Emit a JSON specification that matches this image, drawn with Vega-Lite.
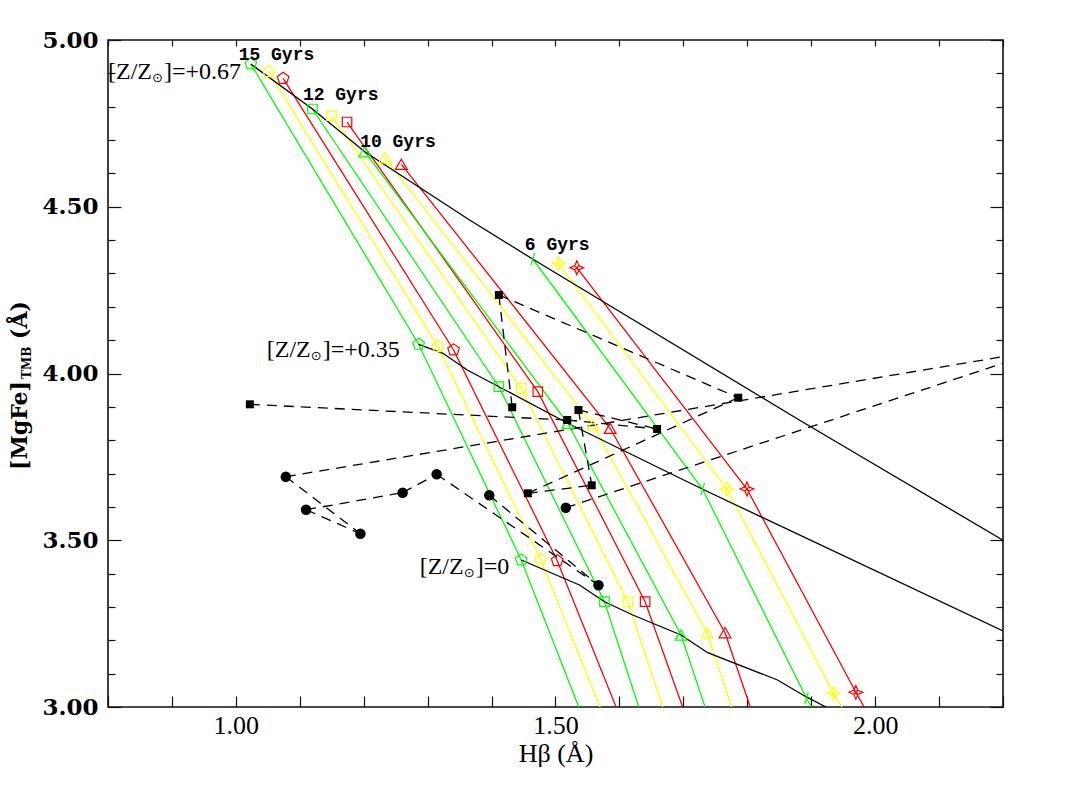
{
  "$schema": "https://vega.github.io/schema/vega-lite/v6.json",
  "width": 895,
  "height": 667,
  "autosize": "none",
  "padding": {"left": 108, "top": 40, "right": 64, "bottom": 90},
  "background": "white",
  "config": {
    "view": {"stroke": "#111111", "strokeWidth": 1.6},
    "font": "DejaVu Serif"
  },
  "datasets": {
    "iso": [
      {"s": "g15", "c": "g", "m": "pent", "o": 1, "x": 1.0234, "y": 4.928},
      {"s": "g15", "c": "g", "m": "pent", "o": 2, "x": 1.2859, "y": 4.0876},
      {"s": "g15", "c": "g", "m": "pent", "o": 3, "x": 1.4464, "y": 3.4408},
      {"s": "g15", "c": "g", "o": 4, "x": 1.5364, "y": 3.0},
      {"s": "y15", "c": "y", "m": "pent", "o": 1, "x": 1.0511, "y": 4.905},
      {"s": "y15", "c": "y", "m": "pent", "o": 2, "x": 1.3161, "y": 4.0804},
      {"s": "y15", "c": "y", "m": "pent", "o": 3, "x": 1.4766, "y": 3.4429},
      {"s": "y15", "c": "y", "o": 4, "x": 1.5698, "y": 3.0},
      {"s": "r15", "c": "r", "m": "pent", "o": 1, "x": 1.0739, "y": 4.885},
      {"s": "r15", "c": "r", "m": "pent", "o": 2, "x": 1.3406, "y": 4.0705},
      {"s": "r15", "c": "r", "m": "pent", "o": 3, "x": 1.5027, "y": 3.4387},
      {"s": "r15", "c": "r", "o": 4, "x": 1.5948, "y": 3.0},
      {"s": "g12", "c": "g", "m": "sq", "o": 1, "x": 1.1198, "y": 4.7931},
      {"s": "g12", "c": "g", "m": "sq", "o": 2, "x": 1.4114, "y": 3.9604},
      {"s": "g12", "c": "g", "m": "sq", "o": 3, "x": 1.5766, "y": 3.3157},
      {"s": "g12", "c": "g", "o": 4, "x": 1.6302, "y": 3.0},
      {"s": "y12", "c": "y", "m": "sq", "o": 1, "x": 1.1495, "y": 4.773},
      {"s": "y12", "c": "y", "m": "sq", "o": 2, "x": 1.4464, "y": 3.9556},
      {"s": "y12", "c": "y", "m": "sq", "o": 3, "x": 1.613, "y": 3.3157},
      {"s": "y12", "c": "y", "o": 4, "x": 1.6677, "y": 3.0},
      {"s": "r12", "c": "r", "m": "sq", "o": 1, "x": 1.1739, "y": 4.7541},
      {"s": "r12", "c": "r", "m": "sq", "o": 2, "x": 1.4723, "y": 3.9454},
      {"s": "r12", "c": "r", "m": "sq", "o": 3, "x": 1.6402, "y": 3.3157},
      {"s": "r12", "c": "r", "o": 4, "x": 1.6989, "y": 3.0},
      {"s": "g10", "c": "g", "m": "tri", "o": 1, "x": 1.2016, "y": 4.6651},
      {"s": "g10", "c": "g", "m": "tri", "o": 2, "x": 1.5192, "y": 3.8507},
      {"s": "g10", "c": "g", "m": "tri", "o": 3, "x": 1.6964, "y": 3.2159},
      {"s": "g10", "c": "g", "o": 4, "x": 1.7339, "y": 3.0},
      {"s": "y10", "c": "y", "m": "tri", "o": 1, "x": 1.2328, "y": 4.6471},
      {"s": "y10", "c": "y", "m": "tri", "o": 2, "x": 1.5583, "y": 3.8456},
      {"s": "y10", "c": "y", "m": "tri", "o": 3, "x": 1.737, "y": 3.2228},
      {"s": "y10", "c": "y", "o": 4, "x": 1.7755, "y": 3.0},
      {"s": "r10", "c": "r", "m": "tri", "o": 1, "x": 1.2589, "y": 4.6273},
      {"s": "r10", "c": "r", "m": "tri", "o": 2, "x": 1.5855, "y": 3.8357},
      {"s": "r10", "c": "r", "m": "tri", "o": 3, "x": 1.7652, "y": 3.2228},
      {"s": "r10", "c": "r", "o": 4, "x": 1.8047, "y": 3.0},
      {"s": "g6", "c": "g", "m": "slash", "o": 1, "x": 1.4645, "y": 4.3433},
      {"s": "g6", "c": "g", "m": "slash", "o": 2, "x": 1.7302, "y": 3.6528},
      {"s": "g6", "c": "g", "m": "slash", "o": 3, "x": 1.8927, "y": 3.0261},
      {"s": "g6", "c": "g", "o": 4, "x": 1.9005, "y": 3.0},
      {"s": "y6", "c": "y", "m": "star", "o": 1, "x": 1.5047, "y": 4.3304},
      {"s": "y6", "c": "y", "m": "star", "o": 2, "x": 1.7683, "y": 3.6537},
      {"s": "y6", "c": "y", "m": "star", "o": 3, "x": 1.9348, "y": 3.0411},
      {"s": "y6", "c": "y", "o": 4, "x": 1.948, "y": 3.0},
      {"s": "r6", "c": "r", "m": "star", "o": 1, "x": 1.5333, "y": 4.3172},
      {"s": "r6", "c": "r", "m": "star", "o": 2, "x": 1.7995, "y": 3.6537},
      {"s": "r6", "c": "r", "m": "star", "o": 3, "x": 1.9698, "y": 3.0441},
      {"s": "r6", "c": "r", "o": 4, "x": 1.9828, "y": 3.0}
    ],
    "zl": [
      {"s": "z67", "o": 1, "x": 1.0234, "y": 4.928},
      {"s": "z67", "o": 2, "x": 1.1198, "y": 4.7931},
      {"s": "z67", "o": 3, "x": 1.2016, "y": 4.6651},
      {"s": "z67", "o": 4, "x": 1.3656, "y": 4.4603},
      {"s": "z67", "o": 5, "x": 1.4641, "y": 4.3433},
      {"s": "z67", "o": 6, "x": 1.8813, "y": 3.8606},
      {"s": "z67", "o": 7, "x": 2.2, "y": 3.5},
      {"s": "z35", "o": 1, "x": 1.2859, "y": 4.0876},
      {"s": "z35", "o": 2, "x": 1.3239, "y": 4.0606},
      {"s": "z35", "o": 3, "x": 1.362, "y": 4.0105},
      {"s": "z35", "o": 4, "x": 1.4114, "y": 3.9604},
      {"s": "z35", "o": 5, "x": 1.5192, "y": 3.8507},
      {"s": "z35", "o": 6, "x": 1.7302, "y": 3.6528},
      {"s": "z35", "o": 7, "x": 2.2, "y": 3.228},
      {"s": "z0", "o": 1, "x": 1.4464, "y": 3.4408},
      {"s": "z0", "o": 2, "x": 1.5375, "y": 3.3658},
      {"s": "z0", "o": 3, "x": 1.5766, "y": 3.3157},
      {"s": "z0", "o": 4, "x": 1.6208, "y": 3.2759},
      {"s": "z0", "o": 5, "x": 1.6964, "y": 3.2159},
      {"s": "z0", "o": 6, "x": 1.738, "y": 3.1628},
      {"s": "z0", "o": 7, "x": 1.8473, "y": 3.081},
      {"s": "z0", "o": 8, "x": 1.8917, "y": 3.0309},
      {"s": "z0", "o": 9, "x": 1.923, "y": 3.0}
    ],
    "dl": [
      {"s": "d1", "o": 1, "x": 1.0219, "y": 3.9076}, {"s": "d1", "o": 2, "x": 1.5183, "y": 3.8606},
      {"s": "d2", "o": 1, "x": 1.4114, "y": 4.2354}, {"s": "d2", "o": 2, "x": 1.4323, "y": 3.8987},
      {"s": "d3", "o": 1, "x": 1.4114, "y": 4.2354}, {"s": "d3", "o": 2, "x": 1.7859, "y": 3.9274},
      {"s": "d4", "o": 1, "x": 1.5359, "y": 3.8906}, {"s": "d4", "o": 2, "x": 1.5567, "y": 3.6648},
      {"s": "d5", "o": 1, "x": 1.5359, "y": 3.8906}, {"s": "d5", "o": 2, "x": 1.6589, "y": 3.8336},
      {"s": "d6", "o": 1, "x": 1.5183, "y": 3.8606}, {"s": "d6", "o": 2, "x": 1.6589, "y": 3.8336},
      {"s": "d7", "o": 1, "x": 1.4567, "y": 3.6408}, {"s": "d7", "o": 2, "x": 1.7859, "y": 3.9274},
      {"s": "d8", "o": 1, "x": 1.4567, "y": 3.6408}, {"s": "d8", "o": 2, "x": 1.5567, "y": 3.6648},
      {"s": "d9", "o": 1, "x": 1.0781, "y": 3.6906}, {"s": "d9", "o": 2, "x": 2.2, "y": 4.0504},
      {"s": "d10", "o": 1, "x": 1.5161, "y": 3.5976}, {"s": "d10", "o": 2, "x": 2.2, "y": 4.0306},
      {"s": "d11", "o": 1, "x": 1.0781, "y": 3.6906}, {"s": "d11", "o": 2, "x": 1.1948, "y": 3.5196},
      {"s": "d12", "o": 1, "x": 1.1098, "y": 3.5916}, {"s": "d12", "o": 2, "x": 1.1948, "y": 3.5196},
      {"s": "d13", "o": 1, "x": 1.1098, "y": 3.5916}, {"s": "d13", "o": 2, "x": 1.2609, "y": 3.6426},
      {"s": "d14", "o": 1, "x": 1.2609, "y": 3.6426}, {"s": "d14", "o": 2, "x": 1.3141, "y": 3.6978},
      {"s": "d15", "o": 1, "x": 1.3141, "y": 3.6978}, {"s": "d15", "o": 2, "x": 1.5672, "y": 3.3649},
      {"s": "d16", "o": 1, "x": 1.3964, "y": 3.6348}, {"s": "d16", "o": 2, "x": 1.5672, "y": 3.3649}
    ],
    "obs": [
      {"t": "sq", "x": 1.0219, "y": 3.9076},
      {"t": "sq", "x": 1.4114, "y": 4.2354},
      {"t": "sq", "x": 1.4323, "y": 3.8987},
      {"t": "sq", "x": 1.5359, "y": 3.8906},
      {"t": "sq", "x": 1.5183, "y": 3.8606},
      {"t": "sq", "x": 1.6589, "y": 3.8336},
      {"t": "sq", "x": 1.7859, "y": 3.9274},
      {"t": "sq", "x": 1.4567, "y": 3.6408},
      {"t": "sq", "x": 1.5567, "y": 3.6648},
      {"t": "ci", "x": 1.0781, "y": 3.6906},
      {"t": "ci", "x": 1.1098, "y": 3.5916},
      {"t": "ci", "x": 1.1948, "y": 3.5196},
      {"t": "ci", "x": 1.2609, "y": 3.6426},
      {"t": "ci", "x": 1.3141, "y": 3.6978},
      {"t": "ci", "x": 1.3964, "y": 3.6348},
      {"t": "ci", "x": 1.5161, "y": 3.5976},
      {"t": "ci", "x": 1.5672, "y": 3.3649}
    ],
    "ages": [
      {"label": "15 Gyrs", "x": 1.0635, "y": 4.955},
      {"label": "12 Gyrs", "x": 1.164, "y": 4.836},
      {"label": "10 Gyrs", "x": 1.2536, "y": 4.695},
      {"label": "6 Gyrs", "x": 1.5027, "y": 4.385}
    ],
    "zlab": [
      {"sfx": "]=+0.67", "x": 0.8, "y": 4.904},
      {"sfx": "]=+0.35", "x": 1.0484, "y": 4.0705},
      {"sfx": "]=0", "x": 1.2875, "y": 3.4207}
    ],
    "ytitle": [
      {"part": "main", "t": "[MgFe]", "x": 0.6625, "y": 3.7106},
      {"part": "sub", "t": "TMB", "x": 0.6734, "y": 3.9835},
      {"part": "main", "t": "(Å)", "x": 0.6625, "y": 4.1034}
    ]
  },
  "layer": [
    {
      "data": {"name": "iso"},
      "mark": {"type": "line", "strokeWidth": 1.3, "clip": true},
      "encoding": {
        "x": {
          "field": "x", "type": "quantitative",
          "scale": {"domain": [0.8, 2.2], "nice": false, "zero": false},
          "axis": {
            "orient": "bottom",
            "values": [0.8, 0.9, 1.0, 1.1, 1.2, 1.3, 1.4, 1.5, 1.6, 1.7, 1.8, 1.9, 2.0, 2.1, 2.2],
            "labelExpr": "abs(datum.value*2 - round(datum.value*2)) < 0.01 && datum.value > 0.85 && datum.value < 2.15 ? format(datum.value, '.2f') : ''",
            "tickSize": -11, "tickWidth": 1.2, "tickColor": "#111111",
            "labelPadding": 16, "labelFont": "Liberation Serif", "labelFontSize": 26, "labelColor": "black",
            "labelFlush": false, "labelOverlap": false,
            "domain": false, "grid": false,
            "title": "Hβ (Å)", "titleFont": "Liberation Serif", "titleFontSize": 26, "titleFontWeight": "normal", "titleColor": "black", "titlePadding": 2
          }
        },
        "y": {
          "field": "y", "type": "quantitative",
          "scale": {"domain": [3.0, 5.0], "nice": false, "zero": false},
          "axis": {
            "orient": "left",
            "values": [3.0, 3.1, 3.2, 3.3, 3.4, 3.5, 3.6, 3.7, 3.8, 3.9, 4.0, 4.1, 4.2, 4.3, 4.4, 4.5, 4.6, 4.7, 4.8, 4.9, 5.0],
            "labelExpr": "abs(datum.value*2 - round(datum.value*2)) < 0.01 ? format(datum.value, '.2f') : ''",
            "tickSize": {"condition": {"test": "abs(datum.value*2 - round(datum.value*2)) < 0.01", "value": -13}, "value": -7},
            "tickWidth": 1.2, "tickColor": "#111111",
            "labelPadding": 23, "labelFont": "DejaVu Serif", "labelFontSize": 23, "labelFontWeight": "bold", "labelColor": "black",
            "labelFlush": false, "labelOverlap": false,
            "domain": false, "grid": false,
            "title": null
          }
        },
        "color": {"field": "c", "type": "nominal", "scale": {"domain": ["g", "y", "r"], "range": ["#00ff00", "#ffff00", "#ff0000"]}, "legend": null},
        "detail": {"field": "s"},
        "order": {"field": "o"}
      }
    },
    {
      "data": {"name": "zl"},
      "mark": {"type": "line", "color": "black", "strokeWidth": 1.3, "clip": true},
      "encoding": {
        "x": {
          "field": "x", "type": "quantitative",
          "axis": {
            "orient": "top",
            "values": [0.8, 0.9, 1.0, 1.1, 1.2, 1.3, 1.4, 1.5, 1.6, 1.7, 1.8, 1.9, 2.0, 2.1, 2.2],
            "labels": false, "title": null, "domain": false, "grid": false,
            "tickSize": -6, "tickWidth": 1.2, "tickColor": "#111111"
          }
        },
        "y": {
          "field": "y", "type": "quantitative",
          "axis": {
            "orient": "right",
            "values": [3.0, 3.1, 3.2, 3.3, 3.4, 3.5, 3.6, 3.7, 3.8, 3.9, 4.0, 4.1, 4.2, 4.3, 4.4, 4.5, 4.6, 4.7, 4.8, 4.9, 5.0],
            "labels": false, "title": null, "domain": false, "grid": false,
            "tickSize": {"condition": {"test": "abs(datum.value*2 - round(datum.value*2)) < 0.01", "value": -13}, "value": -7},
            "tickWidth": 1.2, "tickColor": "#111111"
          }
        },
        "detail": {"field": "s"},
        "order": {"field": "o"}
      }
    },
    {
      "data": {"name": "dl"},
      "mark": {"type": "line", "color": "black", "strokeWidth": 1.3, "strokeDash": [10, 7], "clip": true},
      "encoding": {
        "x": {"field": "x", "type": "quantitative", "axis": null},
        "y": {"field": "y", "type": "quantitative", "axis": null},
        "detail": {"field": "s"},
        "order": {"field": "o"}
      }
    },
    {
      "data": {"name": "iso"},
      "transform": [{"filter": "isValid(datum.m)"}],
      "mark": {"type": "point", "filled": false, "strokeWidth": 1.2, "opacity": 1},
      "encoding": {
        "x": {"field": "x", "type": "quantitative", "axis": null},
        "y": {"field": "y", "type": "quantitative", "axis": null},
        "color": {"field": "c", "type": "nominal", "legend": null},
        "shape": {
          "field": "m", "type": "nominal", "legend": null,
          "scale": {
            "domain": ["pent", "sq", "tri", "star", "slash"],
            "range": [
              "M0,-1L0.951,-0.309L0.588,0.809L-0.588,0.809L-0.951,-0.309Z",
              "square",
              "triangle-up",
              "M0,-1L0.3,-0.3L1,0L0.3,0.3L0,1L-0.3,0.3L-1,0L-0.3,-0.3ZM-0.3,-0.3L0.3,0.3M0.3,-0.3L-0.3,0.3",
              "M-0.3,1L0.3,-1"
            ]
          }
        },
        "size": {
          "field": "m", "type": "nominal", "legend": null,
          "scale": {"type": "ordinal", "domain": ["pent", "sq", "tri", "star", "slash"], "range": [150, 90, 140, 190, 150]}
        }
      }
    },
    {
      "data": {"name": "obs"},
      "transform": [{"filter": "datum.t == 'sq'"}],
      "mark": {"type": "square", "filled": true, "color": "black", "opacity": 1, "size": 64},
      "encoding": {
        "x": {"field": "x", "type": "quantitative", "axis": null},
        "y": {"field": "y", "type": "quantitative", "axis": null}
      }
    },
    {
      "data": {"name": "obs"},
      "transform": [{"filter": "datum.t == 'ci'"}],
      "mark": {"type": "circle", "filled": true, "color": "black", "opacity": 1, "size": 110},
      "encoding": {
        "x": {"field": "x", "type": "quantitative", "axis": null},
        "y": {"field": "y", "type": "quantitative", "axis": null}
      }
    },
    {
      "data": {"name": "ages"},
      "mark": {"type": "text", "font": "Liberation Mono", "fontWeight": "bold", "fontSize": 18, "align": "center", "baseline": "middle", "color": "black"},
      "encoding": {
        "x": {"field": "x", "type": "quantitative", "axis": null},
        "y": {"field": "y", "type": "quantitative", "axis": null},
        "text": {"field": "label"}
      }
    },
    {
      "data": {"name": "zlab"},
      "mark": {"type": "text", "font": "Liberation Serif", "fontSize": 24, "align": "left", "baseline": "middle", "color": "black", "text": "[Z/Z"},
      "encoding": {
        "x": {"field": "x", "type": "quantitative", "axis": null},
        "y": {"field": "y", "type": "quantitative", "axis": null}
      }
    },
    {
      "data": {"name": "zlab"},
      "mark": {"type": "text", "font": "DejaVu Sans", "fontSize": 13, "align": "left", "baseline": "middle", "color": "black", "text": "⊙", "dx": 44, "dy": 6},
      "encoding": {
        "x": {"field": "x", "type": "quantitative", "axis": null},
        "y": {"field": "y", "type": "quantitative", "axis": null}
      }
    },
    {
      "data": {"name": "zlab"},
      "mark": {"type": "text", "font": "Liberation Serif", "fontSize": 24, "align": "left", "baseline": "middle", "color": "black", "dx": 56},
      "encoding": {
        "x": {"field": "x", "type": "quantitative", "axis": null},
        "y": {"field": "y", "type": "quantitative", "axis": null},
        "text": {"field": "sfx"}
      }
    },
    {
      "data": {"name": "ytitle"},
      "mark": {"type": "text", "font": "DejaVu Serif", "fontWeight": "bold", "angle": 270, "align": "left", "baseline": "middle", "color": "black"},
      "encoding": {
        "x": {"field": "x", "type": "quantitative", "axis": null},
        "y": {"field": "y", "type": "quantitative", "axis": null},
        "text": {"field": "t"},
        "size": {"field": "part", "type": "nominal", "legend": null, "scale": {"type": "ordinal", "domain": ["main", "sub"], "range": [22, 12]}}
      }
    }
  ],
  "resolve": {
    "axis": {"x": "independent", "y": "independent"},
    "scale": {"shape": "independent", "size": "independent"}
  }
}
